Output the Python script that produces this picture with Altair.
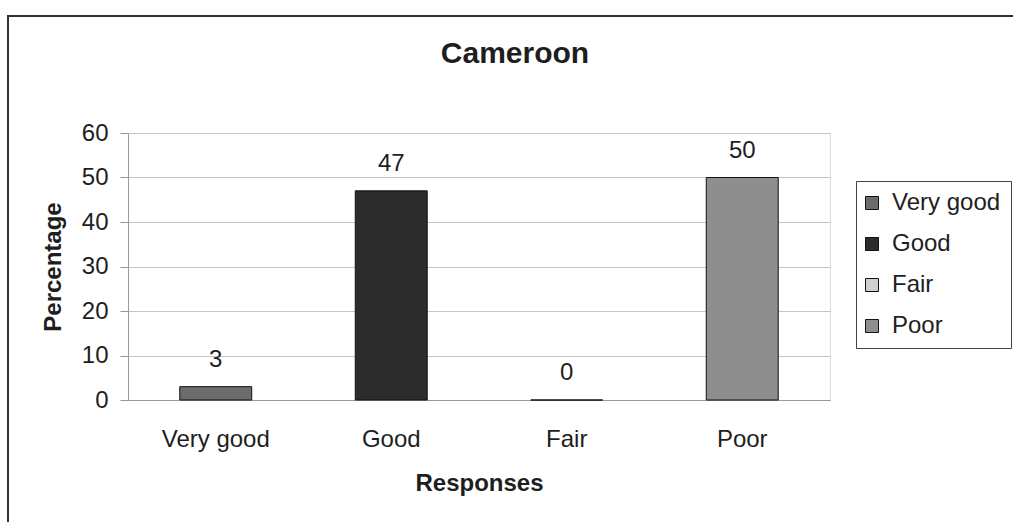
import altair as alt
import pandas as pd

# Survey responses for Cameroon (percentage of respondents)
responses = ["Very good", "Good", "Fair", "Poor"]
percentages = [3, 47, 0, 50]
# Grey tones standing in for the hatched fills of each category
fills = ["#6c6c6c", "#2c2c2c", "#cfcfcf", "#8e8e8e"]
y_ticks = [0, 10, 20, 30, 40, 50, 60]
chart_title = "Cameroon"

df = pd.DataFrame({"Response": responses, "Percentage": percentages})

FONT = "Liberation Sans"
TXT = "#1e1e1e"

x_enc = alt.X(
    "Response:N",
    sort=responses,
    title="Responses",
    scale=alt.Scale(paddingInner=0.59, paddingOuter=0.295),
    axis=alt.Axis(
        labelAngle=0, ticks=False, labelPadding=27, labelFontSize=24,
        titleFontSize=24, titlePadding=20, domainColor="#9a9a9a",
        labelColor=TXT, titleColor=TXT, grid=False,
    ),
)
y_enc = alt.Y(
    "Percentage:Q",
    title="Percentage",
    scale=alt.Scale(domain=[0, 60], nice=False),
    axis=alt.Axis(
        values=y_ticks, tickSize=8, labelPadding=12, labelFontSize=24,
        titleFontSize=24, titlePadding=16, domainColor="#9a9a9a",
        tickColor="#9a9a9a", gridColor="#c4c4c4", labelColor=TXT,
        titleColor=TXT,
    ),
)

base = alt.Chart(df)

bars = base.mark_bar(stroke="#111111", strokeWidth=1).encode(
    x=x_enc,
    y=y_enc,
    color=alt.Color(
        "Response:N",
        sort=responses,
        scale=alt.Scale(domain=responses, range=fills),
        legend=alt.Legend(
            title=None, orient="none", legendX=728, legendY=48,
            strokeColor="#444444", fillColor="white", padding=10,
            symbolType="square", symbolSize=169, symbolStrokeColor="#111111",
            symbolStrokeWidth=1, symbolOffset=-6, labelFontSize=24,
            labelOffset=8, rowPadding=17, labelColor=TXT, labelFont=FONT,
        ),
    ),
)

labels = base.mark_text(
    dy=-20, baseline="alphabetic", fontSize=24, color=TXT, font=FONT
).encode(x=alt.X("Response:N", sort=responses), y="Percentage:Q", text="Percentage:Q")

# outer chart border
frame = alt.Chart(alt.Data(values=[{}])).mark_rect(
    fillOpacity=0, stroke="#333333", strokeWidth=2
).encode(
    x=alt.value(-120), x2=alt.value(1000), y=alt.value(-117), y2=alt.value(500)
)

# chart heading, centred on the outer border
heading = alt.Chart(alt.Data(values=[{"t": chart_title}])).mark_text(
    fontSize=30, fontWeight="bold", baseline="alphabetic", align="center",
    color=TXT, font=FONT,
).encode(x=alt.value(387), y=alt.value(-70), text="t:N")

chart = (
    alt.layer(frame, bars, labels, heading)
    .properties(
        width=702,
        height=267,
        autosize=alt.AutoSizeParams(type="none"),
        padding={"left": 128, "top": 133, "right": 183, "bottom": 122},
        background="white",
    )
    .configure_view(stroke="#aaaaaa", strokeWidth=1)
    .configure(font=FONT)
)

chart.save("out.html", embed_options={"renderer": "svg", "actions": False})
